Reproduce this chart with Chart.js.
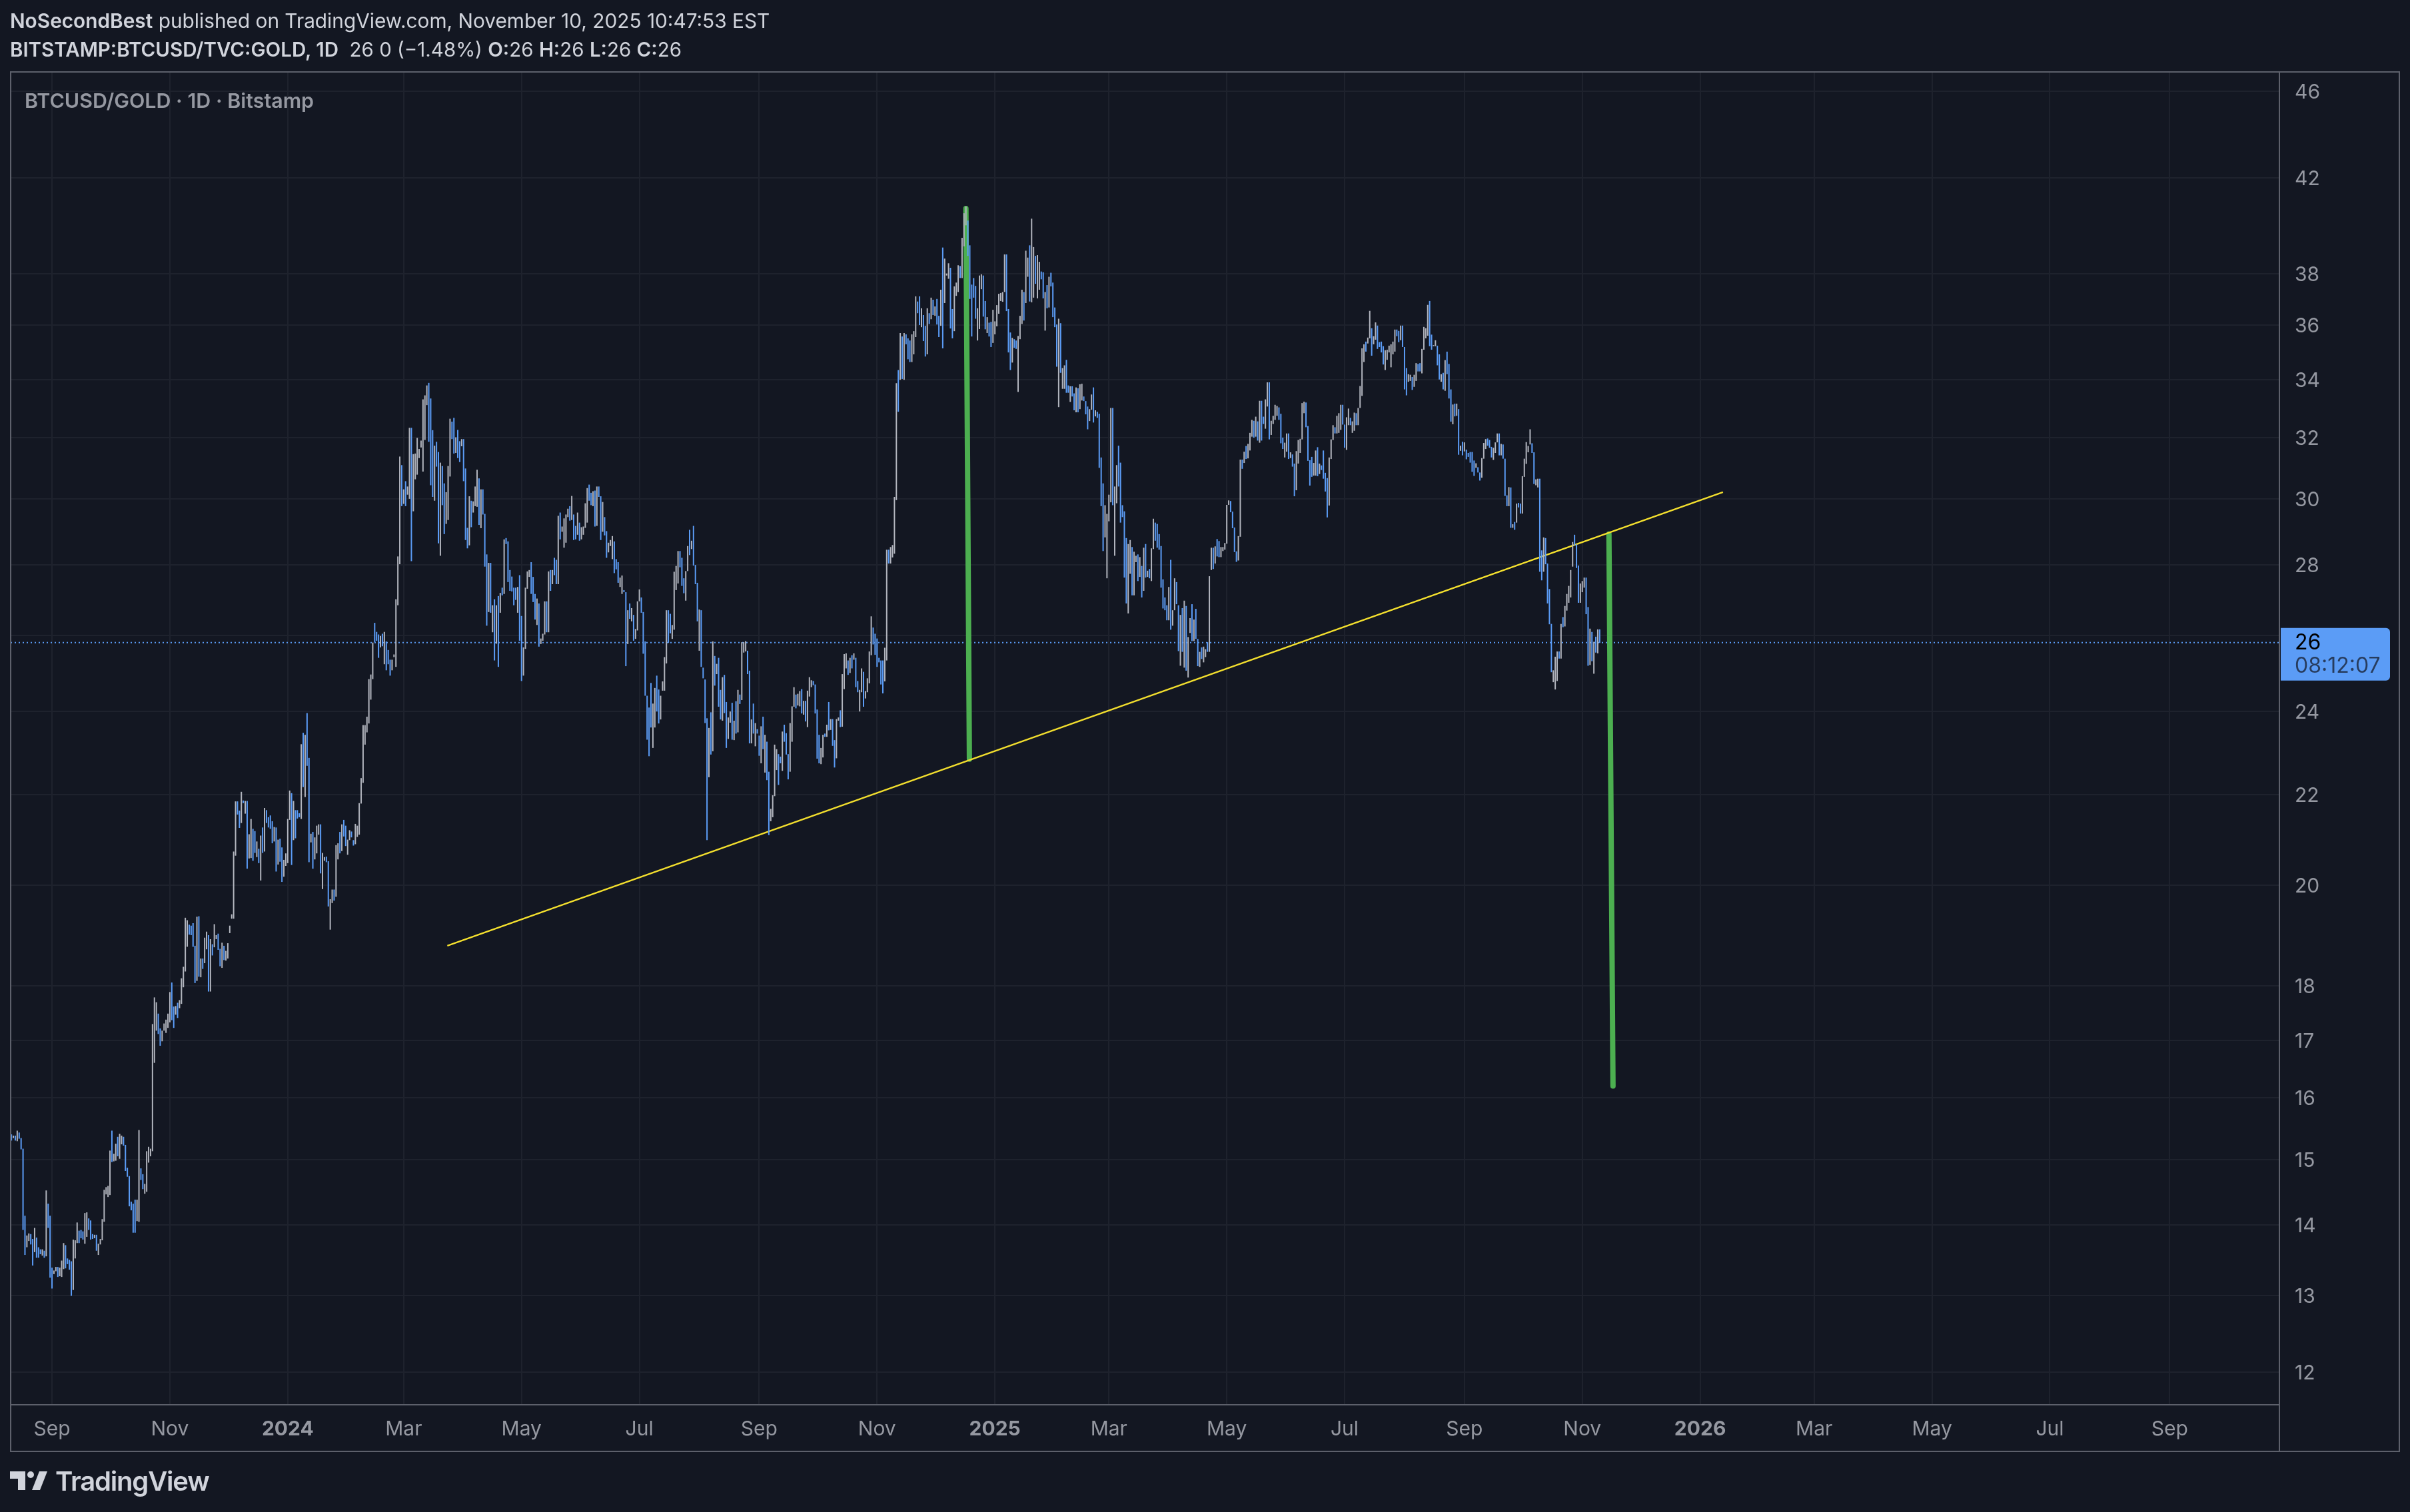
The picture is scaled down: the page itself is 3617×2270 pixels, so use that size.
<!DOCTYPE html>
<html><head><meta charset="utf-8">
<style>
html,body{margin:0;padding:0;background:#131722;width:3617px;height:2270px;overflow:hidden}
#c{position:absolute;left:0;top:0}
.t{position:absolute;white-space:nowrap;font-family:Inter,"Noto Sans",sans-serif;color:#d1d4dc}
b{font-weight:600}
</style>
<script src="https://cdn.jsdelivr.net/npm/chart.js@4"></script>
</head><body>
<canvas id="c" width="3617" height="2270"></canvas>
<div class="t" id="h1" style="left:15px;top:12px;font-size:29.8px;line-height:38px"><b>NoSecondBest</b> published on TradingView.com, November 10, 2025 10:47:53 EST</div>
<div class="t" id="h2" style="left:15px;top:55px;font-size:29.5px;line-height:38px"><b>BITSTAMP:BTCUSD/TVC:GOLD, 1D</b>&nbsp; 26 0 (−1.48%) <b>O:</b>26 <b>H:</b>26 <b>L:</b>26 <b>C:</b>26</div>
<div class="t" id="wm" style="left:37px;top:132px;font-size:30.4px;line-height:38px;color:#9598a1;font-weight:600">BTCUSD/GOLD · 1D · Bitstamp</div>
<svg style="position:absolute;left:0;top:2200px" width="90" height="50"><path fill="#d1d4dc" d="M15 9H38V37H27V20H15Z"/><circle fill="#d1d4dc" cx="46" cy="14" r="5"/><path fill="#d1d4dc" d="M59 9H71L60 37H48Z"/></svg>
<div class="t" id="tv" style="left:83px;top:2200px;font-size:40px;line-height:48px;font-weight:600;letter-spacing:-1.2px">TradingView</div>
<script>
// Segment-wise readings of the daily bars: high, low, direction (u = closed up, d = closed down)
const highsA=[15.40,15.38,15.38,15.46,15.43,15.34,15.17,14.14,13.85,13.88,
13.87,13.80,13.96,13.82,13.68,13.65,13.65,13.63,14.52,14.32,
14.14,13.39,13.35,13.40,13.40,13.39,13.49,13.74,13.71,13.52,
13.50,13.48,13.79,13.78,14.04,13.92,13.93,13.91,14.18,14.19,
14.10,14.07,13.87,13.86,13.86,13.73,13.80,14.09,14.53,14.57,
14.59,15.14,15.46,15.09,15.25,15.36,15.41,15.38,15.36,15.23,
14.87,14.74,14.35,14.32,14.38,14.38,15.47,14.86,14.77,14.62,
15.13,15.20,15.17];
const lowsA=[15.30,15.34,15.30,15.29,15.33,15.16,13.93,13.57,13.68,13.77,
13.72,13.42,13.61,13.53,13.53,13.58,13.56,13.53,13.55,13.96,
13.25,13.10,13.30,13.34,13.26,13.27,13.26,13.37,13.38,13.44,
13.36,13.00,13.08,13.52,13.74,13.74,13.81,13.79,13.73,13.83,
13.93,13.79,13.80,13.81,13.63,13.57,13.72,13.78,14.05,14.46,
14.42,14.45,14.96,14.97,14.98,15.05,15.01,15.24,15.22,14.82,
14.73,14.28,14.22,13.89,13.89,14.06,14.05,14.68,14.54,14.47,
14.50,14.95,15.05];
const dirsA=["dududddduu","ddudddudud","dduuduuudd","dduuuddduu","ddduduuuuu","uuduuduudd","ddddduuddu","uuu"].join("");

const highsB=[17.29,17.78,17.69,17.48,17.21,17.17,17.30,17.37,17.48,17.88,
18.06,17.61,17.62,17.68,17.73,18.14,18.36,19.33,19.28,19.19,
19.17,19.22,18.77,19.35,19.36,18.52,18.52,18.93,19.05,18.98,
18.90,18.80,19.20,18.98,19.01,18.71,18.83,18.77,18.67,18.82,
19.17,19.40,20.72,21.84,21.84,21.63,22.06,21.86,21.85,21.85,
21.10,21.44,21.22,21.17,20.94,20.78,21.07,21.25,21.69,21.64,
21.48,21.52,21.39,21.26,21.25,20.98,21.00,20.81,20.54,20.68,
21.44,22.09,22.03,21.85,21.64,21.64,21.57,23.19,23.47,23.42,
23.96,22.86,21.11,21.15,21.03,21.29,21.32,21.32,20.69,20.60,
20.61,20.51,19.71,19.91,19.91,20.86,20.90,21.15,21.32,21.42,
21.29,20.98,21.19,21.16,20.97,21.33,21.29,21.80,22.38,23.66,
23.66,23.87,24.83,24.95,25.80];
const lowsB=[15.13,16.60,17.17,17.11,16.90,16.98,17.17,17.13,17.22,17.32,
17.36,17.22,17.46,17.40,17.58,17.66,17.97,18.27,18.75,18.99,
18.98,18.75,18.05,18.09,18.17,18.16,18.32,18.43,18.70,17.89,
17.89,18.58,18.74,18.90,18.69,18.37,18.34,18.49,18.48,18.52,
19.02,19.31,19.31,20.63,21.54,21.24,21.35,21.80,21.56,20.35,
20.57,20.58,20.52,20.69,20.60,20.47,20.10,20.69,20.72,21.35,
21.25,21.22,20.90,20.94,20.29,20.44,20.50,20.07,20.18,20.41,
20.47,21.42,20.43,20.97,21.01,21.45,21.48,21.44,22.17,21.94,
22.67,20.49,20.92,20.35,20.55,20.68,21.09,20.25,19.92,20.52,
20.49,19.56,19.09,19.63,19.68,19.76,20.55,20.68,20.73,21.05,
20.84,20.65,20.97,21.03,20.85,20.88,21.04,21.09,21.79,22.27,
23.18,23.48,23.70,24.30,24.83];
const dirsB=["uuudduuuuu","dduduuuuud","dddududuud","uduuddu"+"duu","uuuuddudud","uuddududud","dddududduu","uududddudu","dduduuuduu","dduuduudud","duudduuuuu","uuuuu"].join("");

const highsC=[26.34,26.09,26.02,25.98,26.04,26.09,25.83,25.60,25.34,25.34,
25.48,27.00,28.24,31.36,31.08,30.30,30.56,30.39,32.32,32.32,
31.44,31.46,31.98,31.61,31.89,33.30,33.44,33.79,33.88,33.33,
32.24,31.72,31.85,31.51,31.16,31.05,30.49,30.21,31.05,32.63,
32.53,32.66,32.00,32.25,31.87,31.94,31.94,30.97,29.10,30.08,
29.94,29.92,30.39,30.93,30.65,30.30,30.30,29.53,28.30,28.05,
28.05,26.83,27.00,26.83,27.09,27.18,27.33,28.75,28.79,28.69,
27.84,27.65,27.33,27.33,27.35,27.69,26.53,25.67,27.33,27.80,
27.84,28.07,27.64,27.15,27.02,26.88,25.91,26.04,26.94,26.94,
27.80,27.84,27.84,28.20,28.14,29.47,29.57,29.14,29.39,29.51,
29.69,29.77,30.09,29.51,29.16,29.57,29.26,29.12,29.14,29.86,
30.34,30.45,30.19,30.24,30.26,30.39,30.39,30.08,29.90,29.43,
29.00,28.65,28.73,28.85,28.69,28.16,28.07,27.62,27.68,27.26,
27.20,26.69,26.88,26.75,26.56,26.17,26.94,27.28,27.05,26.64,
25.83,24.40,24.10,24.73,24.20,24.60,24.92,24.56,24.40,24.77,
25.41,26.69,26.69,26.59,26.28,27.79,27.96,28.40,28.40,28.20,
27.60,27.81,28.55,29.04,28.71,29.16,27.99,27.47,26.71,26.69,
25.13,24.82];
const lowsC=[25.81,25.85,25.39,25.67,25.70,25.22,25.06,25.22,24.92,25.06,
25.41,25.15,26.83,28.01,29.77,29.84,29.77,30.13,30.00,28.10,
29.61,30.62,30.77,31.31,31.66,30.87,31.91,33.10,31.85,30.43,
30.06,29.94,31.03,28.63,28.26,29.80,28.91,29.22,29.34,30.71,
31.94,31.46,31.48,31.31,31.18,31.70,30.56,28.73,28.48,28.57,
29.12,29.57,29.77,29.75,29.19,29.09,29.51,27.94,26.26,26.64,
26.62,26.08,25.32,25.77,25.15,26.62,27.11,27.15,28.61,27.49,
27.24,27.22,26.83,26.98,26.62,25.85,24.78,24.92,25.63,27.30,
27.64,27.15,26.92,26.43,26.28,25.69,25.76,25.85,26.02,26.08,
26.08,27.24,27.43,27.69,27.43,27.43,28.75,28.98,28.50,28.65,
29.43,29.32,29.34,28.73,28.75,28.89,28.71,28.75,28.89,29.10,
29.26,29.94,29.80,29.77,29.14,29.16,30.06,28.73,28.98,28.87,
28.20,28.36,28.55,28.16,27.75,27.86,27.47,27.35,27.15,27.20,
25.17,25.76,26.45,26.38,25.85,25.90,26.13,26.94,26.62,25.50,
24.40,23.30,22.90,23.60,23.10,23.60,24.00,23.70,23.80,24.53,
24.53,25.24,25.79,26.05,25.90,26.15,27.26,27.45,27.92,27.38,
27.17,26.96,27.81,28.28,28.46,27.97,27.43,26.38,25.58,25.15,
24.85,23.71];
const dirsC=["dddududddu","uuuududuud","uuuuuuuudd","duddudduuu","dduddudddu","duuududddu","dududududd","ddddudduuu","uddduduuud","ududduduuu","ududduduuu","uddududdud","duuuddduud","dududuuudd","dddduudduu","uudduuuudd","duududddud","dd"].join("");

const highsD=[23.83,23.59,23.98,25.83,25.44,25.23,25.39,24.55,24.88,24.94,
24.24,23.85,24.00,24.22,23.77,24.26,24.55,24.43,25.81,25.81,
25.84,25.58,25.05,23.80,24.20,23.71,23.56,23.40,23.63,23.87,
23.42,23.25,22.53,21.67,21.98,23.18,23.07,22.95,22.89,23.50,
23.67,23.46,22.95,23.71,24.13,24.62,24.43,24.45,24.52,24.57,
24.27,24.27,24.53,24.88,24.80,24.78,24.69,24.05,23.42,23.10,
23.42,23.45,23.67,24.24,23.81,23.81,23.29,23.81,23.85,24.03,
24.96,25.49,25.51,25.32,25.39,25.46,25.51,25.39,24.78,24.55,
25.11,25.02,24.52,24.85,25.56,26.52,26.21,26.04,25.91,25.39,
25.32,25.32,25.66,28.44,28.44,28.52,28.58];
const lowsD=[20.97,22.40,22.94,23.02,24.66,24.96,24.12,23.80,23.77,23.96,
23.10,23.32,23.72,23.30,23.29,23.45,23.48,24.19,24.29,25.53,
25.56,24.96,23.21,23.21,23.45,23.14,23.45,22.91,22.73,23.07,
22.51,22.33,21.08,21.39,21.48,21.96,22.57,22.22,22.73,22.55,
23.25,22.94,22.35,22.53,23.25,24.12,24.08,24.15,24.13,23.95,
23.92,23.75,23.61,24.38,24.62,24.67,23.95,22.84,22.73,22.71,
22.87,23.37,23.37,23.53,23.54,23.15,22.63,22.85,23.77,23.61,
23.62,24.57,25.11,24.94,24.99,25.11,25.34,24.62,24.49,24.00,
24.49,24.12,24.33,24.49,24.72,25.46,25.75,25.47,25.15,25.27,
24.69,24.46,24.77,25.32,28.03,28.03,28.21];
const dirsD=["dudududdud","duudududuu","uddududdud","udduuuuddu","ddduuuduud","uduuuddddu","udududduud","uuudududdu","uduuuudddd","dduuduu"].join("");

const highsE=[30.06,33.87,34.34,35.70,35.57,35.70,35.65,35.50,35.42,35.65,
35.77,37.10,36.90,37.10,36.64,36.38,35.97,36.64,36.45,37.05,
36.97,36.71,37.00,36.35,37.36,39.05,38.60,38.00,38.41,38.23,
36.61,37.49,37.64,38.33,38.30,39.45,40.48,40.77,40.17,39.14,
37.56,37.82,37.51,36.64,37.92,37.97,37.92,36.92,36.30,36.09,
36.12,36.58,36.14,36.76,37.20,37.23,37.27,38.77,38.77,36.61,
35.72,35.52,35.47,35.42,35.59,36.35,37.36,37.27,38.92,38.64,
39.14,40.25,39.07,38.71,38.74,38.47,38.08,38.05,37.27,37.54,
37.87,38.03,37.64,36.67,36.02,36.24,36.07,34.41,34.51,34.71,
33.79,33.76,33.76,33.51,33.72,33.69,33.83,33.85,33.40,33.24,
33.05,32.96,33.47,33.72,32.92,32.87,32.80,31.33,30.49,29.80,
29.53,30.13,33.00,33.00,30.39,31.08,31.72,31.16,29.80,29.61,
28.79,28.61,28.73,28.52,28.38,28.26,28.30,28.22,27.96,28.50,
28.61,27.82,27.87,28.48,29.38,29.26,29.22,28.91,28.55,27.57,
27.05,26.83,27.35,28.14,26.69,27.60,27.49,26.83,26.56,26.75,
26.96,26.81,25.95,26.47,26.86,26.43,26.73,25.90,25.55,25.67,
25.69,25.62,25.81,27.66,28.50];
const lowsE=[28.32,29.96,32.87,33.99,34.02,33.99,35.28,34.73,34.63,34.63,
34.91,35.55,36.45,36.00,35.92,35.40,34.83,34.91,36.04,36.22,
36.38,36.35,36.02,35.55,35.97,35.13,36.84,37.92,37.79,35.87,
35.50,35.77,37.12,37.27,37.82,37.82,39.10,39.97,38.71,37.00,
35.57,37.05,36.24,35.42,35.85,37.38,36.32,35.84,35.70,35.57,
35.18,35.33,35.65,35.95,36.43,36.92,36.89,37.27,36.53,34.98,
34.34,34.61,35.15,35.11,33.56,35.47,36.04,36.17,36.84,37.87,
36.90,36.87,37.05,37.59,37.02,37.36,37.77,37.02,35.79,36.64,
36.67,37.49,36.30,35.92,34.46,33.03,34.24,33.67,33.67,33.53,
33.53,33.21,33.40,32.92,32.85,32.85,32.96,33.26,33.24,32.78,
32.27,32.55,32.94,32.50,32.71,32.66,30.99,29.77,28.40,28.81,
27.60,29.30,29.89,29.80,28.26,29.86,30.39,29.26,29.43,27.62,
26.88,26.60,27.73,27.11,27.11,28.07,27.52,27.64,27.05,27.24,
27.62,27.64,27.60,27.52,28.46,28.71,28.50,28.44,27.33,26.74,
26.69,26.41,26.41,26.15,26.26,26.69,26.86,25.57,25.18,25.55,
25.13,25.05,24.87,26.06,25.84,25.84,25.90,25.17,25.15,25.36,
25.27,25.41,25.55,25.55,27.84];
const dirsE=["uudududddu","uudduddudu","dudduduuud","duuuduuudd","ddduuuddud","duuuuuuudd","dudduuuduu","duuduuddud","udddduduud","dudduduudd","duududdddu","uuuduudddd","duuduududu","duduuddddd","dduduuddud","uduududdud","uuduu"].join("");

const highsF=[28.50,28.54,28.76,28.70,28.52,28.52,28.64,29.81,29.95,29.93,
29.60,29.11,28.39,28.85,31.26,31.26,31.52,31.71,31.78,32.15,
32.59,32.56,32.70,32.54,33.25,33.25,32.70,33.30,33.90,33.90,
32.56,32.73,33.11,33.07,33.02,32.80,31.99,31.82,32.13,32.13,
31.50,31.43,31.13,31.54,31.91,31.95,33.17,33.22,33.19,32.38,
31.24,31.35,31.15,31.56,31.67,31.13,31.07,31.56,30.83,30.66,
31.33,31.93,32.41,32.34,32.73,32.82,33.11,33.11,32.43,32.68,
32.98,32.66,32.54,32.84,32.82,33.00,33.77];
const lowsF=[27.87,28.03,28.24,28.22,28.22,28.40,28.44,28.62,29.81,29.58,
29.09,28.37,28.08,28.12,28.83,30.96,31.15,31.28,31.30,31.56,
32.02,31.99,32.02,31.89,31.82,31.89,32.45,32.29,33.05,31.93,
32.08,32.45,32.59,32.73,32.59,31.80,31.61,31.33,31.52,31.28,
31.31,31.03,30.08,30.27,31.13,31.48,31.93,32.82,32.34,31.22,
30.42,30.70,30.74,30.74,30.72,30.79,30.92,30.64,30.23,29.42,
29.79,31.28,31.91,32.13,32.13,32.15,32.25,32.43,31.65,31.58,
32.41,32.41,32.15,32.22,32.41,32.41,33.00];
const dirsF=["dudduuuuud","ddduududuu","udududduud","uuuuddduud","udduuuuudd","dduududddd","uuuduuuddu","uduuduu"].join("");

const highsG=[35.13,35.28,35.38,35.53,36.54,35.88,35.58,36.10,35.98,35.36,
35.38,35.21,35.06,35.08,35.23,35.28,35.38,35.83,35.83,35.78,
35.98,35.98,35.18,34.41,34.19,34.17,34.09,34.17,34.59,34.56,
34.59,35.11,35.93,35.88,36.77,36.92,35.64,35.25,35.43,35.23,
34.91,34.19,34.24,34.70,35.01,34.56,33.65,33.12,33.15,33.15,
32.96,31.72,31.85,31.83,31.59,31.48,31.51,31.51,31.23,31.14,
31.01,30.84,31.31,31.81,31.94,31.96,31.91,31.68,31.65,31.83,
32.13,32.13,31.78,31.76,31.29,30.11,30.37];
const lowsG=[33.42,34.63,35.01,35.31,35.50,34.86,35.28,35.45,35.11,35.18,
34.98,34.54,34.34,34.71,34.98,34.44,34.91,35.01,35.58,35.36,
35.43,35.18,33.65,33.44,33.92,33.95,33.63,33.74,33.95,34.29,
34.29,34.22,35.08,35.50,35.60,35.21,35.08,35.21,35.21,34.51,
34.00,33.92,33.65,33.60,34.19,33.33,32.53,32.44,32.71,32.73,
31.42,31.55,31.40,31.53,31.27,31.35,31.16,30.86,30.73,30.99,
30.84,30.58,30.67,31.29,31.61,31.72,31.65,31.33,31.25,31.48,
31.83,31.40,31.40,31.29,30.09,29.77,29.77];
const dirsG=["uuduuduudd","dduuuuuudd","uddduuduud","duuuudduud","dududddudu","dududddddu","dduuuddduu","ududddu"].join("");

const highsH=[30.36,29.21,29.28,29.85,29.87,29.85,30.72,31.29,31.84,31.71,
32.27,31.80,31.50,30.62,30.64,30.64,28.42,28.81,28.79,28.03,
27.29,26.31,25.06,25.42,25.56,25.56,26.31,26.50,26.81,27.15,
27.38,27.84,28.67,28.89,28.60,27.97,27.45,27.52,27.62,27.62,
26.78,26.18,26.09,25.82,25.96,26.16,26.16];
const lowsH=[29.10,29.10,29.04,29.26,29.73,29.54,29.54,30.70,31.12,31.50,
31.76,31.48,30.47,30.43,30.36,27.79,27.54,27.79,28.01,26.88,
26.30,25.01,24.75,24.56,24.78,25.37,25.37,26.22,26.24,26.68,
26.90,27.05,27.94,28.56,27.90,26.90,26.90,27.20,27.33,26.58,
25.18,25.20,25.30,24.97,25.53,25.51,25.79];
const dirsH=["dududduuuu","udduuddudd","dduuududuu","uuuddduuud","dududud"].join("");

const highs=[...highsA,...highsB,...highsC,...highsD,...highsE,...highsF,...highsG,...highsH];
const lows=[...lowsA,...lowsB,...lowsC,...lowsD,...lowsE,...lowsF,...lowsG,...lowsH];
const dirs=dirsA+dirsB+dirsC+dirsD+dirsE+dirsF+dirsG+dirsH;

// Days counted from 1 Sep 2023; the last bar is 10 Nov 2025
const lastDay=801;
const monthDays=[0,61,122,182,243,304,366,427,488,547,608,669,731,792,853,912,973,1034,1096];
const monthLabels=["Sep","Nov","2024","Mar","May","Jul","Sep","Nov","2025","Mar","May","Jul","Sep","Nov","2026","Mar","May","Jul","Sep"];
const priceTicks=[12,13,14,15,16,17,18,20,22,24,26,28,30,32,34,36,38,42,46];
const lastPrice=25.8, lastPriceLabel="26", countdown="08:12:07";
const trendDays=[204.6,864.8], trendPrices=[18.77,30.21];
const targetADays=[473,474.8], targetAPrices=[40.68,22.83];
const targetBDays=[805.8,807.9], targetBPrices=[28.91,16.2];
const dayMin=-21.4, dayMax=1152.8, priceMin=11.596, priceMax=46.95;

const firstDay=lastDay-highs.length+1;
const barData=highs.map((h,i)=>({x:firstDay+i,y:[lows[i],h]}));
const barColors=[...dirs].map(d=>d==="u"?"#b2b5be":"#5b9cf6");
const pts=(xs,ys)=>xs.map((x,i)=>({x,y:ys[i]}));

const BORDER="#5d606b", GRID="#1e222d", TXT="#9598a1";
const frame={id:"frame",afterDraw(ch){
  const c=ch.ctx,a=ch.chartArea,sx=ch.scales.x,sy=ch.scales.y;
  c.save();
  c.strokeStyle=BORDER;c.lineWidth=2;
  c.strokeRect(a.left,a.top,sy.right-a.left,sx.bottom-a.top);
  c.beginPath();c.moveTo(a.right,a.top);c.lineTo(a.right,sx.bottom);c.moveTo(a.left,a.bottom);c.lineTo(a.right,a.bottom);c.stroke();
  const y=sy.getPixelForValue(lastPrice);
  const L=a.right+2,T=y-22,W=164,H=79,r=6;
  c.fillStyle="#5b9cf6";
  c.beginPath();c.moveTo(L,T);c.lineTo(L+W-r,T);c.arcTo(L+W,T,L+W,T+r,r);c.lineTo(L+W,T+H-r);c.arcTo(L+W,T+H,L+W-r,T+H,r);c.lineTo(L,T+H);c.closePath();c.fill();
  c.textAlign="left";c.textBaseline="middle";
  c.font="32px Inter";c.fillStyle="#000";c.fillText(lastPriceLabel,a.right+23,y+1);
  c.fillStyle="rgba(19,23,34,0.72)";c.fillText(countdown,a.right+23,y+36);
  c.restore();
}};

new Chart(document.getElementById("c"),{
  type:"bar",
  plugins:[frame],
  data:{datasets:[
    {type:"bar",data:barData,backgroundColor:barColors,barThickness:2,borderWidth:0,inflateAmount:0,grouped:false,order:0},
    {type:"line",data:pts(trendDays,trendPrices),borderColor:"#f3df2e",borderWidth:2.5,pointRadius:0,order:2},
    {type:"line",data:pts(targetADays,targetAPrices),borderColor:"#4caf50",borderWidth:8,borderCapStyle:"round",pointRadius:0,order:2},
    {type:"line",data:pts(targetBDays,targetBPrices),borderColor:"#4caf50",borderWidth:8,borderCapStyle:"round",pointRadius:0,order:2},
    {type:"line",data:pts([dayMin,dayMax],[lastPrice,lastPrice]),borderColor:"#5b9cf6",borderWidth:2,borderDash:[2,4],pointRadius:0,order:3}
  ]},
  options:{
    responsive:false,animation:false,devicePixelRatio:1,
    layout:{padding:{left:16,top:108,right:16,bottom:91}},
    plugins:{legend:{display:false},tooltip:{enabled:false},title:{display:false}},
    scales:{
      x:{type:"linear",min:dayMin,max:dayMax,offset:false,
        grid:{color:GRID,lineWidth:2,drawTicks:false,offset:false},border:{display:false},
        afterFit(s){s.height=70},
        afterBuildTicks(s){s.ticks=monthDays.map(v=>({value:v}))},
        ticks:{autoSkip:false,maxRotation:0,minRotation:0,padding:19,color:TXT,
          font:c=>({family:"Inter",size:30,weight:/^\d/.test(monthLabels[c.index]||"")?"700":"400"}),
          callback:(v,i)=>monthLabels[i]}},
      y:{type:"logarithmic",position:"right",min:priceMin,max:priceMax,
        grid:{color:GRID,lineWidth:2,drawTicks:false},border:{display:false},
        afterFit(s){s.width=180},
        afterBuildTicks(s){s.ticks=priceTicks.map(v=>({value:v}))},
        ticks:{autoSkip:false,padding:23,labelOffset:2,color:TXT,font:{family:"Inter",size:30},callback:v=>String(v)}}
    }
  }
});
</script>
</body></html>
